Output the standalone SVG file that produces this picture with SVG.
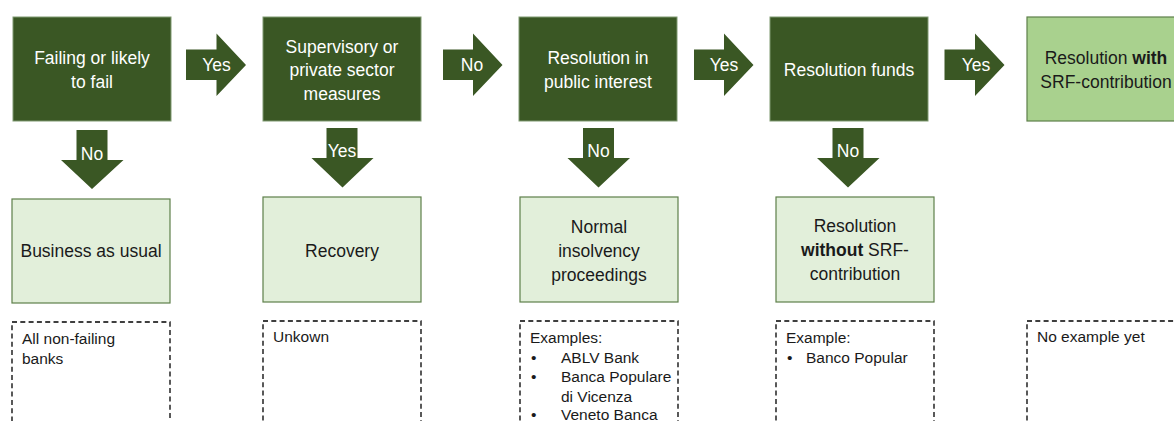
<svg xmlns="http://www.w3.org/2000/svg" width="1174" height="421" viewBox="0 0 1174 421">
<style>
.dark{fill:#3A5724;stroke:#7F9970;stroke-width:1}
.light{fill:#E2EFDA;stroke:#5E7F4A;stroke-width:1.2}
.mid{fill:#A9D18E;stroke:#5E7F4A;stroke-width:1.2}
.dash{fill:none;stroke:#000000;stroke-width:1.3;stroke-dasharray:5 3.3}
.arrow{fill:#3A5724}
text{font-family:"Liberation Sans",Arial,sans-serif}
.tw{fill:#FFFFFF;font-size:17.5px;text-anchor:middle}
.tb{fill:#1a1a1a;font-size:17.5px;text-anchor:middle}
.ts{fill:#1a1a1a;font-size:15.5px}
.b{font-weight:bold}
</style>
<rect width="1174" height="421" fill="#FFFFFF"/>
<g id="n-fail">
<rect class="dark" x="13" y="17" width="158" height="104"/>
<text class="tw" x="92" y="64">Failing or likely</text>
<text class="tw" x="92" y="88">to fail</text>
</g>
<g id="n-supervisory">
<rect class="dark" x="263" y="17" width="158" height="104"/>
<text class="tw" x="342" y="52.5">Supervisory or</text>
<text class="tw" x="342" y="76">private sector</text>
<text class="tw" x="342" y="99.5">measures</text>
</g>
<g id="n-public">
<rect class="dark" x="519" y="17" width="158" height="104"/>
<text class="tw" x="598" y="64">Resolution in</text>
<text class="tw" x="598" y="88">public interest</text>
</g>
<g id="n-funds">
<rect class="dark" x="770" y="17" width="158" height="104"/>
<text class="tw" x="849" y="75.5">Resolution funds</text>
</g>
<g id="n-with">
<rect class="mid" x="1027" y="17" width="158" height="104"/>
<text class="tb" x="1106" y="64">Resolution <tspan class="b">with</tspan></text>
<text class="tb" x="1106" y="88">SRF-contribution</text>
</g>
<g id="n-business">
<rect class="light" x="12" y="199" width="158" height="104"/>
<text class="tb" x="91" y="257">Business as usual</text>
</g>
<g id="n-recovery">
<rect class="light" x="263" y="197" width="158" height="105"/>
<text class="tb" x="342" y="257">Recovery</text>
</g>
<g id="n-insolvency">
<rect class="light" x="520" y="197" width="158" height="105"/>
<text class="tb" x="599" y="233">Normal</text>
<text class="tb" x="599" y="257">insolvency</text>
<text class="tb" x="599" y="281">proceedings</text>
</g>
<g id="n-without">
<rect class="light" x="776" y="197" width="158" height="105"/>
<text class="tb" x="855" y="232">Resolution</text>
<text class="tb" x="855" y="256"><tspan class="b">without</tspan> SRF-</text>
<text class="tb" x="855" y="280">contribution</text>
</g>
<g id="ex-business">
<rect class="dash" x="12" y="322" width="158" height="120"/>
<text class="ts" x="22" y="344">All non-failing</text>
<text class="ts" x="22" y="363.5">banks</text>
</g>
<g id="ex-recovery">
<rect class="dash" x="263" y="321" width="158" height="120"/>
<text class="ts" x="273" y="342">Unkown</text>
</g>
<g id="ex-insolvency">
<rect class="dash" x="520" y="321" width="158" height="120"/>
<text class="ts" x="530" y="343">Examples:</text>
<text class="ts" x="531" y="362.5">•</text>
<text class="ts" x="561" y="362.5">ABLV Bank</text>
<text class="ts" x="531" y="382">•</text>
<text class="ts" x="561" y="382">Banca Populare</text>
<text class="ts" x="561" y="401.5">di Vicenza</text>
<text class="ts" x="531" y="420">•</text>
<text class="ts" x="561" y="420">Veneto Banca</text>
</g>
<g id="ex-without">
<rect class="dash" x="776" y="321" width="158" height="120"/>
<text class="ts" x="786" y="343">Example:</text>
<text class="ts" x="787" y="362.5">•</text>
<text class="ts" x="806" y="362.5">Banco Popular</text>
</g>
<g id="ex-with">
<rect class="dash" x="1027" y="321" width="158" height="120"/>
<text class="ts" x="1037" y="342">No example yet</text>
</g>
<g id="connectors">
<g id="c-fail-supervisory">
<path class="arrow" d="M186,49.5 H216.5 V33.5 L246,65 L216.5,96 V80 H186 Z"/>
<text class="tw" x="216.5" y="70.5">Yes</text>
</g>
<g id="c-supervisory-public">
<path class="arrow" d="M443,49.5 H473 V33.5 L502.5,65 L473,96 V80 H443 Z"/>
<text class="tw" x="472" y="70.5">No</text>
</g>
<g id="c-public-funds">
<path class="arrow" d="M694,49.5 H724 V33.5 L753.5,65 L724,96 V80 H694 Z"/>
<text class="tw" x="724" y="70.5">Yes</text>
</g>
<g id="c-funds-with">
<path class="arrow" d="M944.5,49.5 H975 V33.5 L1004.5,65 L975,96 V80 H944.5 Z"/>
<text class="tw" x="976" y="70.5">Yes</text>
</g>
<g id="c-fail-business">
<path class="arrow" d="M76.5,130 H107.5 V160 H123.5 L92,189 L61,160 H76.5 Z"/>
<text class="tw" x="92" y="160">No</text>
</g>
<g id="c-supervisory-recovery">
<path class="arrow" d="M326.5,128 H357.5 V158 H373.5 L342.5,187.5 L311.5,158 H326.5 Z"/>
<text class="tw" x="342" y="157">Yes</text>
</g>
<g id="c-public-insolvency">
<path class="arrow" d="M583,128 H614 V158 H630 L598.5,187.5 L567.5,158 H583 Z"/>
<text class="tw" x="598.5" y="157">No</text>
</g>
<g id="c-funds-without">
<path class="arrow" d="M832.5,128 H863.5 V158 H879.5 L848,187.5 L817,158 H832.5 Z"/>
<text class="tw" x="848" y="157">No</text>
</g>
</g>
</svg>
